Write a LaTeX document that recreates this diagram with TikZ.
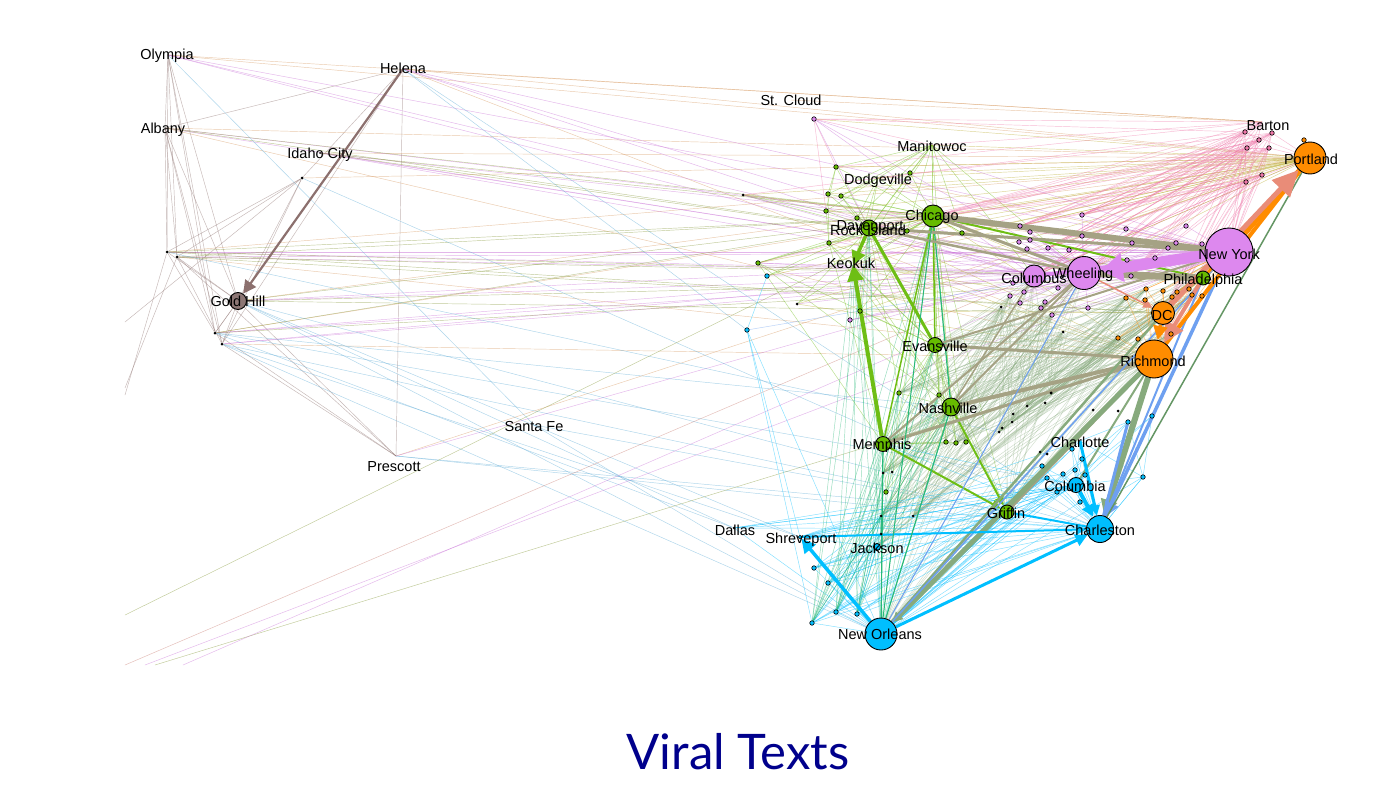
\documentclass[tikz,border=0pt]{standalone}
\usepackage{fontspec}
\setmainfont{Liberation Sans}
\newfontfamily\titlefont{Lato}
\usetikzlibrary{arrows.meta}
\pgfdeclarelayer{bg}
\pgfdeclarelayer{edges}
\pgfsetlayers{bg,edges,main}
\definecolor{brn}{RGB}{140,112,110}
\definecolor{brnfill}{RGB}{140,118,116}
\definecolor{vio}{RGB}{200,110,215}
\definecolor{viofill}{RGB}{221,136,238}
\definecolor{grn}{RGB}{110,190,20}
\definecolor{grnfill}{RGB}{102,187,0}
\definecolor{org}{RGB}{255,140,0}
\definecolor{cyn}{RGB}{0,191,255}
\definecolor{sal}{RGB}{233,140,120}
\definecolor{gol}{RGB}{165,162,132}
\definecolor{ggr}{RGB}{135,170,125}
\definecolor{bl}{RGB}{110,160,240}
\definecolor{ylw}{RGB}{185,170,40}
\definecolor{tan}{RGB}{215,150,90}
\definecolor{pnk}{RGB}{240,120,170}
\definecolor{tl}{RGB}{40,185,120}
\definecolor{lbl}{RGB}{90,170,215}
\definecolor{olv}{RGB}{130,150,50}
\definecolor{dgr}{RGB}{100,150,100}
\definecolor{rbr}{RGB}{200,120,110}
\definecolor{navy}{RGB}{0,0,140}
\tikzset{
  tn/.style={line width=0.45pt, draw opacity=0.5},
  hub/.style={circle, draw=black, line width=0.9pt, inner sep=0pt, minimum size=#1},
  dot/.style={circle, draw=black, line width=0.6pt, inner sep=0pt, minimum size=4.5pt, fill=#1},
  kdot/.style={circle, fill=black, inner sep=0pt, minimum size=3pt},
  lab/.style={font=\fontsize{14.5}{16}\selectfont, inner sep=0pt, text=black, text height=10pt, text depth=0pt},
  tip/.style={-{Triangle[length=#1,width=#1]}}
}
\begin{document}
\begin{tikzpicture}[x=1pt,y=-1pt]
\begin{pgfonlayer}{bg}
\fill[white] (0,0) rectangle (1393,808);
\end{pgfonlayer}
\useasboundingbox (0,0) rectangle (1393,808);

% ---------- west points
\node[kdot,minimum size=1.5pt] (olympia) at (168,55) {};
\node[kdot,minimum size=2pt] (helena) at (403,69) {};
\node[kdot,minimum size=1.5pt] (albany) at (165,128) {};
\node[kdot,minimum size=2pt] (idahoc) at (320,153) {};
\node[kdot] (idahodot) at (302,178) {};
\node[kdot] (w1) at (167,252) {};
\node[kdot] (w2) at (177,257) {};
\node[kdot] (w3) at (215,333) {};
\node[kdot] (w4) at (222,344) {};
\coordinate (prescott) at (396,456);
\coordinate (santafe) at (534,425);
\coordinate (stcloud) at (791,100);
\coordinate (manitowoc) at (932,145);
\coordinate (dodgeville) at (878,178);
\coordinate (keokuk) at (853,265);
\coordinate (barton) at (1262,122);
\coordinate (charlotte) at (1080,441);
\node[kdot] (dallas) at (734,528) {};
\node[dot=cyn,minimum size=3.5pt] (shreveport) at (800,537) {};
% boundary points
\coordinate (L1) at (125,322);
\coordinate (L2) at (125,395);
\coordinate (L3) at (125,388);
\coordinate (B1) at (125,615);
\coordinate (B2) at (125,665);
\coordinate (B3) at (145,665);
\coordinate (B4) at (155,665);
\coordinate (B5) at (183,665);

% ---------- hubs
\node[hub=17pt, fill=brnfill] (goldhill) at (238,301) {};
\node[hub=22pt, fill=grnfill] (chicago) at (933,216) {};
\node[hub=16pt, fill=grnfill] (davenport) at (869,228) {};
\node[hub=22pt, fill=viofill] (columbus) at (1034,276) {};
\node[hub=33pt, fill=viofill] (wheeling) at (1084,273) {};
\node[hub=48pt, fill=viofill] (newyork) at (1229,252) {};
\node[hub=14pt, fill=grnfill] (philly) at (1203,278) {};
\node[hub=32pt, fill=org] (portland) at (1310,158) {};
\node[hub=23pt, fill=org] (dc) at (1163,313) {};
\node[hub=38pt, fill=org] (richmond) at (1154,359) {};
\node[hub=15pt, fill=grnfill] (evansville) at (935,345) {};
\node[hub=18pt, fill=grnfill] (nashville) at (951,407) {};
\node[hub=15pt, fill=grnfill] (memphis) at (883,444) {};
\node[hub=14pt, fill=grnfill] (griffin) at (1007,512) {};
\node[hub=15pt, fill=cyn] (columbia) at (1076,485) {};
\node[hub=27pt, fill=cyn] (charleston) at (1100,529) {};
\node[hub=32pt, fill=cyn] (neworleans) at (881,634) {};
\node[hub=7pt, fill=cyn] (jackson) at (877,547) {};

% ---------- small dots
\foreach \n/\x/\y in {g1/836/167,g2/828/194,g3/841/196,g4/826/211,g5/829/243,g6/857/218,g7/910/173,g8/907/231,g9/962/233,g10/860/311,g11/758/263,g12/899/393,g13/939/395,g14/946/442,g15/956/443,g16/966/442,g17/886/492}
  \node[dot=grnfill] (\n) at (\x,\y) {};
\foreach \n/\x/\y in {k1/743/195,k2/797/304,k4/883/473,k5/892/472,k6/881/516,k7/913/516,k8/1051/393,k9/1045/403,k10/1027/406,k11/1013/414,k12/1012/422,k13/1002/428,k14/999/432,k15/1093/410,k16/1118/411,k17/881/534,k19/812/623,k20/1040/452,k21/1047/454,k22/1063/332,k23/1001/307,k24/1051/393}
  \node[kdot] (\n) at (\x,\y) {};
\foreach \n/\x/\y in {v1/1020/226,v2/1030/232,v3/1030/240,v4/1019/242,v5/1027/249,v6/1048/248,v7/1069/250,v8/1082/236,v9/1082/215,v10/1126/229,v11/1132/243,v12/1127/260,v13/1131/276,v14/1155/258,v15/1168/248,v16/1176/243,v17/1186/226,v18/1202/244,v19/1013/283,v20/1010/296,v21/1024/292,v22/1020/303,v23/1045/302,v24/1058/288,v25/1041/308,v26/1088/308,v27/1052/315,v28/850/320,v29/814/119}
  \node[dot=viofill] (\n) at (\x,\y) {};
\foreach \n/\x/\y in {o1/1146/289,o2/1163/291,o3/1177/292,o4/1189/289,o5/1192/295,o6/1202/296,o7/1172/297,o8/1145/300,o9/1126/298,o10/1118/338,o11/1138/339,o12/1171/334,o13/1304/140}
  \node[dot=org] (\n) at (\x,\y) {};
\foreach \n/\x/\y in {p1/1245/132,p2/1259/140,p3/1272/133,p4/1247/148,p5/1269/148,p6/1246/182,p7/1262/175}
  \node[dot=pnk] (\n) at (\x,\y) {};
\foreach \n/\x/\y in {c1/1128/422,c2/1152/416,c3/1042/466,c4/1072/449,c5/1082/459,c6/1063/474,c7/1075/470,c8/1085/475,c9/1047/478,c10/1057/492,c11/1080/502,c12/1143/477,c13/767/276,c14/747/330,c15/814/568,c16/828/583,c17/836/612,c18/857/614,c19/812/623}
  \node[dot=cyn] (\n) at (\x,\y) {};

% ---------- edges
\begin{pgfonlayer}{edges}
% west brown mesh
\foreach \a/\b in {olympia/goldhill,olympia/w1,olympia/w2,olympia/w3,olympia/w4,albany/goldhill,albany/w3,albany/w4,albany/w1,albany/w2,helena/albany,helena/w3,helena/w4,helena/idahodot,helena/prescott,idahodot/w1,idahodot/goldhill,idahodot/w2,goldhill/prescott,w2/prescott,w1/w3,w2/w4,w1/goldhill,w2/goldhill,goldhill/w3,goldhill/w4,w3/prescott,w4/prescott,idahodot/L1,w1/L2,w2/L3,olympia/albany,idahodot/w4}
  \draw[tn,brn] (\a) -- (\b);
% west to east
\foreach \s in {olympia,helena,albany,idahoc,idahodot,w1,goldhill,w3,prescott} \draw[tn,tan] (\s) -- (portland);
\foreach \s in {helena,albany,w2,w4} \draw[tn,tan] (\s) -- (richmond);
\foreach \s in {olympia,helena,stcloud} \draw[tn,tan] (\s) -- (barton);
\foreach \s in {olympia,helena,albany,idahoc,w1,w2,goldhill,w3,w4}
  \foreach \t in {wheeling,newyork} \draw[tn,vio] (\s) -- (\t);
\foreach \s in {helena,idahoc,prescott,olympia} \draw[tn,vio] (\s) -- (columbus);
\foreach \s in {albany,w1,w2,goldhill,w3,idahoc}
  \foreach \t in {chicago,philly} \draw[tn,olv] (\s) -- (\t);
\foreach \s in {w1,w2,goldhill} \draw[tn,olv] (\s) -- (dc);
\foreach \a/\b in {helena/charleston,helena/c14,goldhill/neworleans,goldhill/charleston,goldhill/dallas,goldhill/shreveport,w3/columbia,w3/nashville,w4/neworleans,w4/griffin,idahodot/charleston,prescott/charleston,prescott/griffin,santafe/charleston,santafe/neworleans,w1/k14,w3/dallas,w4/shreveport,olympia/santafe}
  \draw[tn,lbl] (\a) -- (\b);
\draw[tn,rbr] (B2) -- (portland);
\draw[tn,vio] (B3) -- (newyork);
\draw[tn,olv] (B4) -- (richmond);
\draw[tn,vio] (B5) -- (wheeling);
\draw[tn,olv] (B1) -- (chicago);
% green mesh
\foreach \t in {chicago,davenport,evansville,g1,g2,g7,g8,g9,dodgeville,columbus,wheeling,g3,g6,keokuk,nashville}
  \draw[tn,grn] (manitowoc) -- (\t);
\foreach \t in {chicago,davenport,g4,g6,g7,keokuk,g3} \draw[tn,grn] (dodgeville) -- (\t);
\foreach \s in {g1,g2,g3,g4,g5,g6,g7,g8,g9,g10,g11,k1,k2,c13}
  \foreach \t in {chicago,davenport} \draw[tn,grn] (\s) -- (\t);
\foreach \s in {keokuk,g5,g10,g11}
  \foreach \t in {evansville,memphis,nashville} \draw[tn,grn] (\s) -- (\t);
\foreach \t in {g8,g9,griffin,keokuk,g12,g13} \draw[tn,grn] (chicago) -- (\t);
\foreach \t in {g12,g14,griffin} \draw[tn,grn] (davenport) -- (\t);
\foreach \s in {g12,g13,g14,g15,g16,g17}
  \foreach \t in {nashville,memphis,evansville,chicago} \draw[tn,grn] (\s) -- (\t);
\foreach \t in {nashville,memphis,griffin,k4} \draw[tn,grn] (evansville) -- (\t);
\foreach \t in {memphis,k4,k5,k6,k7} \draw[tn,grn] (nashville) -- (\t);
\foreach \a/\b in {g1/g2,g1/g4,g2/g5,g4/g5,g3/g6,k1/g4,g11/g5,g10/keokuk}
  \draw[tn,grn] (\a) -- (\b);
% olive lines to portland
\foreach \s in {v29,manitowoc,dodgeville,chicago,davenport,keokuk,g1,g2,g4,g5,g11,k1,k2,columbus,wheeling,v1,v6,v9,g7,g9,c13,g10}
  \draw[tn,ylw] (\s) -- (portland);
\foreach \s in {chicago,davenport,keokuk,k2,g5} \draw[tn,ylw] (\s) -- (richmond);
\foreach \s in {chicago,keokuk,g10} \draw[tn,ylw] (\s) -- (dc);
\foreach \s in {k1,g4,dodgeville} \draw[tn,tan] (\s) -- (newyork);
% pink
\foreach \s in {p1,p2,p3,p4,p5,p6,p7,barton}
  \foreach \t in {columbus,wheeling,v1,v6,v9,v13,dc,chicago,newyork}
    \draw[tn,pnk] (\s) -- (\t);
\foreach \a/\b in {p1/v29,p2/davenport,p3/dodgeville,p4/keokuk,barton/manitowoc,barton/g1,p1/k1,p2/g11,p6/richmond,p4/richmond,p7/o4,p5/philly,p1/p2,p2/p3,p4/p5,p1/p6,p3/p7,p2/p4,p1/portland,p3/portland,p5/portland,p6/portland,o13/portland,barton/v29,v29/g1,v29/g4,v29/manitowoc}
  \draw[tn,pnk] (\a) -- (\b);
% violet
\foreach \s in {v1,v2,v3,v4,v5,v6,v7,v8,v9,v10,v11,v12,v13,v14,v15,v16,v17,v18,v19,v20,v21,v22,v23,v24,v25,v26,v27,v28}
  \foreach \t in {newyork,wheeling} \draw[tn,vio] (\s) -- (\t);
\foreach \a/\b in {v29/newyork,v29/columbus,v29/davenport,v29/wheeling,k1/wheeling,k1/columbus,g11/columbus,g11/wheeling,c13/wheeling,keokuk/newyork,davenport/columbus,v28/columbus,k2/newyork}
  \draw[tn,vio] (\a) -- (\b);
% southern gray-green mesh
\foreach \s in {richmond,dc,philly,newyork,wheeling,columbus,o1,o5,o9,o10,o12,v20,v23,v27,k22,k23}
  \foreach \t in {memphis,nashville,griffin,evansville,k4,k8,k10,k12,k14,neworleans,jackson,g12,g15,k6,k7}
    \draw[tn,ggr,draw opacity=0.4] (\s) -- (\t);
\foreach \s in {o1,o2,o3,o4,o5,o6,o7,o8,o9,o10,o11,o12}
  \foreach \t in {richmond,dc,newyork} \draw[tn,org] (\s) -- (\t);
% cyan mesh
\foreach \s in {neworleans,charleston,columbia}
  \foreach \t in {c1,c2,c3,c4,c5,c6,c7,c8,c9,c10,c11,c12,c15,c16,c17,c18,c19,shreveport,dallas,griffin,charlotte,memphis,k6,k7,k17,jackson}
    \draw[tn,cyn] (\s) -- (\t);
\foreach \s in {c15,c16,c17,c18,c19,shreveport}
  \foreach \t in {jackson,k17,k6,griffin,c9} \draw[tn,cyn] (\s) -- (\t);
\foreach \a/\b in {c14/c13,c14/shreveport,c14/c19,c14/neworleans,dallas/griffin,dallas/columbia,dallas/c6,shreveport/columbia,shreveport/charlotte,shreveport/c3,charlotte/c1,charlotte/c12,c1/c12,c2/c12,c12/charleston}
  \draw[tn,cyn] (\a) -- (\b);
\draw[tn,bl] (c14) -- (wheeling);
% teal from New Orleans
\foreach \s in {neworleans,c17,c18,k19,k17}
  \foreach \t in {memphis,nashville,chicago,evansville,davenport,g12,g13,k4,k6,keokuk}
    \draw[tn,tl] (\s) -- (\t);

% ---------- thick edges
\draw[brn,line width=2.2pt,tip=13pt] (helena) -- (goldhill);
\draw[grn,line width=1.5pt] (chicago) -- (evansville);
\draw[grn,line width=1.5pt] (chicago) -- (memphis);
\draw[tl,line width=1.2pt] (chicago) -- (nashville);
\draw[grn,line width=2pt] (chicago) -- (philly);
\draw[gol,line width=6pt] (chicago) -- (newyork);
\draw[gol,line width=3pt] (chicago) -- (wheeling);
\draw[gol,line width=3pt] (davenport) -- (newyork);
\draw[gol,line width=2.5pt] (davenport) -- (wheeling);
\draw[grn,line width=3pt] (davenport) -- (evansville);
\draw[grn,line width=3.5pt,tip=14pt] (davenport) -- (keokuk);
\draw[grn,line width=4pt,tip=16pt] (memphis) -- (keokuk);
\draw[grn,line width=2pt,tip=9pt] (memphis) -- (griffin);
\draw[grn,line width=2pt,tip=9pt] (nashville) -- (griffin);
\draw[gol,line width=4pt] (richmond) -- (nashville);
\draw[gol,line width=3pt] (richmond) -- (memphis);
\draw[gol,line width=3pt] (richmond) -- (evansville);
\draw[gol,line width=2.5pt] (richmond) -- (griffin);
\draw[gol,line width=2pt] (wheeling) -- (nashville);
\draw[gol,line width=2pt] (wheeling) -- (memphis);
\draw[gol,line width=2pt] (newyork) -- (evansville);
\draw[gol,line width=1.5pt] (columbus) -- (nashville);
\draw[gol,line width=7pt] (philly) -- (wheeling);
\draw[ggr,line width=5pt,tip=10pt] (richmond) -- (neworleans);
\draw[ggr,line width=2.5pt] (dc) -- (neworleans);
\draw[ggr,line width=2pt] (richmond) -- (columbia);
\draw[ggr,line width=6pt,tip=16pt] (richmond) -- (charleston);
\draw[bl,line width=3.5pt,tip=14pt] (newyork) -- (charleston);
\draw[bl,line width=1.5pt] (newyork) -- (neworleans);
\draw[bl,line width=2pt] (philly) -- (charleston);
\draw[bl,line width=1pt] (wheeling) -- (neworleans);
\draw[dgr,line width=1.5pt] (portland) -- (charleston);
\draw[org,line width=5pt] (newyork) -- (portland);
\draw[org,line width=4pt] (richmond) -- (portland);
\draw[org,line width=3pt] (philly) -- (portland);
\draw[sal,line width=5pt,-{Triangle[length=26pt,width=24pt]}] (dc) -- (portland);
\draw[sal,line width=4pt,tip=20pt] (philly) -- (richmond);
\draw[sal,line width=1.5pt,tip=9pt] (wheeling) -- (dc);
\draw[org,line width=3pt,tip=14pt] (dc) -- (richmond);
\draw[viofill,line width=11pt,-{Triangle[length=22pt,width=28pt]}] (newyork) -- (wheeling);
\draw[viofill,line width=4pt] (newyork) -- (columbus);
\draw[cyn,line width=3pt,tip=12pt] (neworleans) -- (charleston);
\draw[cyn,line width=2pt,tip=10pt] (shreveport) -- (charleston);
\draw[cyn,line width=3.5pt,tip=14pt] (neworleans) -- (shreveport);
\draw[cyn,line width=4pt,tip=12pt] (columbia) -- (charleston);
\draw[cyn,line width=3pt,tip=10pt] (charlotte) -- (charleston);
\draw[bl,line width=3pt] (c1) -- (charleston);
\draw[cyn,line width=2pt] (griffin) -- (charleston);
\draw[tl,line width=1.2pt] (neworleans) -- (memphis);
\draw[tl,line width=1.2pt] (neworleans) -- (nashville);
\draw[tl,line width=1pt] (neworleans) -- (chicago);
\end{pgfonlayer}

% ---------- labels
\node[lab] (olympiaL) at (167,55) {Olympia};
\node[lab] (helenaL) at (403,69) {Helena};
\node[lab] (albanyL) at (163,128) {Albany};
\node[lab] (idahoL) at (320,153) {Idaho City};
\node[lab] (goldhillL) at (238,301) {Gold Hill};
\node[lab] (stcloudL) at (791,101) {St. Cloud};
\node[lab] (manitowocL) at (932,146) {Manitowoc};
\node[lab] (dodgevilleL) at (878,179) {Dodgeville};
\node[lab] (chicagoL) at (932,215) {Chicago};
\node[lab] (davenportL) at (870,225) {Davenport};
\node[lab] (rockislandL) at (868,230) {Rock Island};
\node[lab] (keokukL) at (851,263) {Keokuk};
\node[lab] (columbusL) at (1034,278) {Columbus};
\node[lab] (wheelingL) at (1083,273) {Wheeling};
\node[lab] (newyorkL) at (1229,254) {New York};
\node[lab] (phillyL) at (1203,279) {Philadelphia};
\node[lab] (portlandL) at (1311,159) {Portland};
\node[lab] (bartonL) at (1268,125) {Barton};
\node[lab] (dcL) at (1162,315) {DC};
\node[lab] (richmondL) at (1153,361) {Richmond};
\node[lab] (evansvilleL) at (935,346) {Evansville};
\node[lab] (nashvilleL) at (948,408) {Nashville};
\node[lab] (memphisL) at (882,444) {Memphis};
\node[lab] (griffinL) at (1006,513) {Griffin};
\node[lab] (charlotteL) at (1080,442) {Charlotte};
\node[lab] (columbiaL) at (1075,486) {Columbia};
\node[lab] (charlestonL) at (1100,530) {Charleston};
\node[lab] (dallasL) at (735,530) {Dallas};
\node[lab] (shreveportL) at (801,538) {Shreveport};
\node[lab] (jacksonL) at (877,548) {Jackson};
\node[lab] (neworleansL) at (880,634) {New Orleans};
\node[lab] (santafeL) at (534,426) {Santa Fe};
\node[lab] (prescottL) at (394,466) {Prescott};

% ---------- title
\node[font=\titlefont\fontsize{49}{55}\selectfont, text=navy, inner sep=0pt] (title) at (738,752) {Viral Texts};
\end{tikzpicture}
\end{document}
